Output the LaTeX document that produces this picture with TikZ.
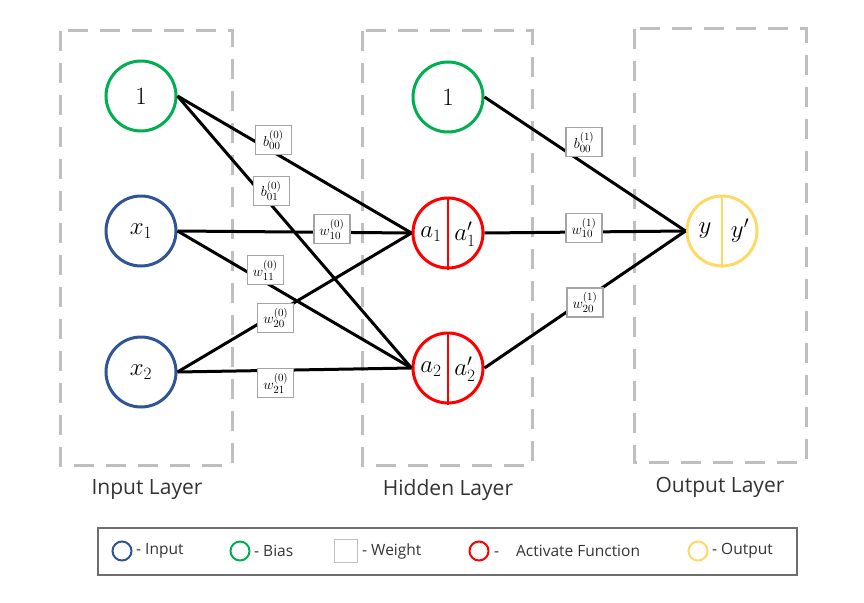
\documentclass[tikz,border=0pt]{standalone}
\usepackage{fontspec}
\setmainfont{Open Sans}
\usepackage{tikz}
\usetikzlibrary{arrows,backgrounds}

\definecolor{inblue}{RGB}{47,85,151}
\definecolor{biasgreen}{RGB}{0,176,80}
\definecolor{actred}{RGB}{255,0,0}
\definecolor{outyellow}{RGB}{255,217,102}
\definecolor{dashgray}{RGB}{191,191,191}
\definecolor{boxgray}{RGB}{165,165,165}
\definecolor{legframe}{RGB}{110,110,110}

\tikzset{
  neuron/.style={circle,line width=3pt,minimum size=70pt,inner sep=0pt,
    font=\fontsize{26}{30}\selectfont},
  inputn/.style={neuron,draw=inblue},
  biasn/.style={neuron,draw=biasgreen},
  actn/.style={neuron,draw=actred},
  outn/.style={neuron,draw=outyellow},
  half/.style={inner sep=0pt,font=\fontsize{25}{29}\selectfont},
  wbox/.style={draw=boxgray,fill=white,line width=1.2pt,minimum width=36pt,
    minimum height=29pt,inner sep=1pt,font=\fontsize{15}{16}\selectfont},
  layer/.style={draw=dashgray,line width=3pt,dash pattern=on 20pt off 12pt},
  link/.style={line width=3pt},
  laytext/.style={font=\fontsize{21}{24}\selectfont,text=black!80},
  legdot/.style={circle,line width=2pt,minimum size=19pt,inner sep=0pt},
  legtext/.style={anchor=west,inner sep=0pt,font=\fontsize{15.5}{18}\selectfont,text=black!80}
}

\begin{document}
\begin{tikzpicture}[x=1pt,y=-1pt]
   \useasboundingbox (0,0) rectangle (864,602);

   % layer frames
   \draw[layer] (60,31) rectangle (232,465);
   \draw[layer] (362,31) rectangle (532,465);
   \draw[layer] (634,29) rectangle (806,462);
   \draw (147,490) node[laytext] (inlab) {Input Layer};
   \draw (448,490) node[laytext] (hidlab) {Hidden Layer};
   \draw (720,487) node[laytext] (outlab) {Output Layer};

   % input layer
   \draw (141,96) node[biasn] (b0) {$1$};
   \draw (141,231) node[inputn] (x1) {$x_1$};
   \draw (141,372) node[inputn] (x2) {$x_2$};

   % hidden layer
   \draw (448,97) node[biasn] (b1) {$1$};
   \draw (448,233) node[actn] (a1) {};
   \draw (448,368) node[actn] (a2) {};
   \draw[actred,line width=2.5pt] (a1.north) -- (a1.south);
   \draw[actred,line width=2.5pt] (a2.north) -- (a2.south);
   \draw (431,234) node[half] (a1in) {$a_1$};
   \draw (465,234) node[half] (a1out) {$a'_1$};
   \draw (431,369) node[half] (a2in) {$a_2$};
   \draw (465,369) node[half] (a2out) {$a'_2$};

   % output layer
   \draw (722,231) node[outn] (y) {};
   \draw[outyellow,line width=2.5pt] (y.north) -- (y.south);
   \draw (705,231) node[half] (yin) {$y$};
   \draw (740,231) node[half] (yout) {$y'$};

   % connections
   \draw[link] (b0.east) -- (a1.west);
   \draw[link] (b0.east) -- (a2.west);
   \draw[link] (x1.east) -- (a1.west);
   \draw[link] (x1.east) -- (a2.west);
   \draw[link] (x2.east) -- (a1.west);
   \draw[link] (x2.east) -- (a2.west);
   \draw[link] (b1.east) -- (y.west);
   \draw[link] (a1.east) -- (y.west);
   \draw[link] (a2.east) -- (y.west);

   % weights
   \path (b0.east) -- node[wbox,pos=.41,yshift=12pt] (wb00) {$b_{00}^{(0)}$} (a1.west);
   \path (b0.east) -- node[wbox,pos=.40,yshift=14pt] (wb01) {$b_{01}^{(0)}$} (a2.west);
   \path (x1.east) -- node[wbox,pos=.66,yshift=3pt] (w10) {$w_{10}^{(0)}$} (a1.west);
   \path (x1.east) -- node[wbox,pos=.375,yshift=12pt] (w11) {$w_{11}^{(0)}$} (a2.west);
   \path (x2.east) -- node[wbox,pos=.42,yshift=-4pt] (w20) {$w_{20}^{(0)}$} (a1.west);
   \path (x2.east) -- node[wbox,pos=.42,yshift=-13pt] (w21) {$w_{21}^{(0)}$} (a2.west);
   \path (b1.east) -- node[wbox,pos=.495,yshift=21pt] (vb00) {$b_{00}^{(1)}$} (y.west);
   \path (a1.east) -- node[wbox,pos=.495,yshift=4pt] (v10) {$w_{10}^{(1)}$} (y.west);
   \path (a2.east) -- node[wbox,pos=.50,yshift=-3pt] (v20) {$w_{20}^{(1)}$} (y.west);

   % legend
   \draw[legframe,line width=1.5pt] (98,528) rectangle (797,575);
   \draw (122,551) node[legdot,draw=inblue] (lgin) {};
   \draw (136,551) node[legtext] (lgintxt) {- Input};
   \draw (240,551) node[legdot,draw=biasgreen] (lgbias) {};
   \draw (254,551) node[legtext] (lgbiastxt) {- Bias};
   \draw (346,551) node[draw=dashgray,line width=1.5pt,minimum size=23pt,inner sep=0pt] (lgw) {};
   \draw (362,551) node[legtext] (lgwtxt) {- Weight};
   \draw (479,551) node[legdot,draw=actred] (lgact) {};
   \draw (494,551) node[legtext] (lgacttxt) {-\hspace{17pt}Activate Function};
   \draw (698,551) node[legdot,draw=outyellow] (lgout) {};
   \draw (712,551) node[legtext] (lgouttxt) {- Output};
\end{tikzpicture}
\end{document}
